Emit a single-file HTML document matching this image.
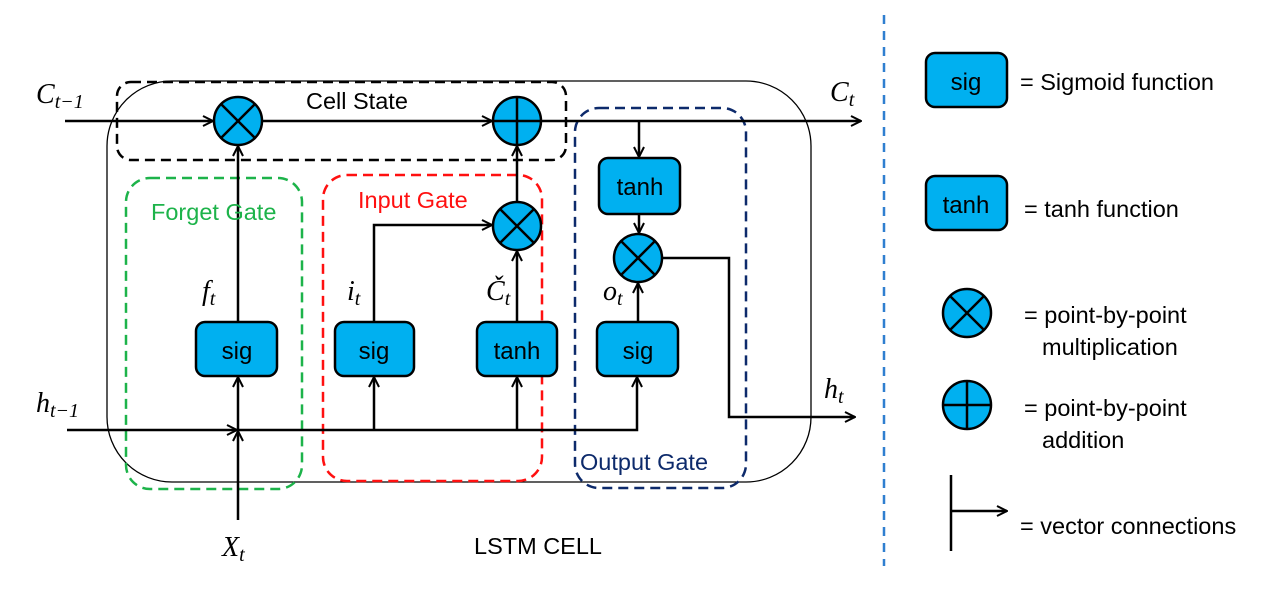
<!DOCTYPE html>
<html><head><meta charset="utf-8"><style>
html,body{margin:0;padding:0;background:#fff;}
svg{display:block;}
text{font-family:"Liberation Sans",sans-serif;}
text.m{font-family:"Liberation Serif",serif;font-style:italic;}
</style></head><body>
<svg width="1280" height="592" viewBox="0 0 1280 592" xmlns="http://www.w3.org/2000/svg">
<defs>
<marker id="a" viewBox="0 0 12 12" refX="11" refY="6" markerWidth="12" markerHeight="12" markerUnits="userSpaceOnUse" orient="auto">
<path d="M1,1 L11,6 L1,11" fill="none" stroke="#000" stroke-width="2"/>
</marker>
</defs>
<rect x="107" y="81" width="704" height="401" rx="65" fill="none" stroke="#000" stroke-width="1.3"/>
<rect x="117" y="82" width="449" height="78" rx="14" fill="none" stroke="#000" stroke-width="2.5" stroke-dasharray="10,6"/>
<rect x="126" y="178" width="176" height="311" rx="24" fill="none" stroke="#1db34a" stroke-width="2.5" stroke-dasharray="10,6"/>
<rect x="323" y="175" width="219" height="306" rx="24" fill="none" stroke="#ff1010" stroke-width="2.5" stroke-dasharray="10,6"/>
<rect x="575" y="108" width="171" height="380" rx="24" fill="none" stroke="#0d2a6b" stroke-width="2.5" stroke-dasharray="10,6"/>
<g stroke="#000" stroke-width="2.5" fill="none">
<line x1="65" y1="121" x2="213" y2="121" marker-end="url(#a)"/>
<line x1="262" y1="121" x2="492" y2="121" marker-end="url(#a)"/>
<line x1="541" y1="121" x2="861" y2="121" marker-end="url(#a)"/>
<line x1="238" y1="322" x2="238" y2="146" marker-end="url(#a)"/>
<line x1="238" y1="430" x2="238" y2="377" marker-end="url(#a)"/>
<line x1="238" y1="520" x2="238" y2="431" marker-end="url(#a)"/>
<line x1="67" y1="430" x2="237" y2="430" marker-end="url(#a)"/>
<polyline points="238,430 637,430 637,377" marker-end="url(#a)"/>
<line x1="374" y1="430" x2="374" y2="377" marker-end="url(#a)"/>
<line x1="517" y1="430" x2="517" y2="377" marker-end="url(#a)"/>
<polyline points="374,322 374,225 492,225" marker-end="url(#a)"/>
<line x1="517" y1="322" x2="517" y2="251" marker-end="url(#a)"/>
<line x1="517" y1="202" x2="517" y2="146" marker-end="url(#a)"/>
<line x1="639" y1="121" x2="639" y2="157" marker-end="url(#a)"/>
<line x1="639" y1="214" x2="639" y2="233" marker-end="url(#a)"/>
<line x1="638" y1="322" x2="638" y2="283" marker-end="url(#a)"/>
<polyline points="662,258 729,258 729,417 855,417" marker-end="url(#a)"/>
<line x1="951" y1="475" x2="951" y2="551"/>
<line x1="951" y1="511" x2="1007" y2="511" marker-end="url(#a)"/>
</g>
<g fill="#00b0f0" stroke="#000" stroke-width="2.5">
<rect x="196" y="322" width="81" height="54" rx="9"/>
<rect x="335" y="322" width="79" height="54" rx="9"/>
<rect x="477" y="322" width="80" height="54" rx="9"/>
<rect x="597" y="322" width="81" height="54" rx="9"/>
<rect x="599" y="158" width="81" height="56" rx="9"/>
<rect x="926" y="53" width="81" height="54" rx="9"/>
<rect x="926" y="176" width="81" height="54" rx="9"/>
</g>
<g fill="#00b0f0" stroke="#000" stroke-width="2.5">
<g transform="translate(238,121)"><circle r="24"/><path d="M-17,-17L17,17M17,-17L-17,17"/></g>
<g transform="translate(517,121)"><circle r="24"/><path d="M-24,0H24M0,-24V24"/></g>
<g transform="translate(517,226)"><circle r="24"/><path d="M-17,-17L17,17M17,-17L-17,17"/></g>
<g transform="translate(638,258)"><circle r="24"/><path d="M-17,-17L17,17M17,-17L-17,17"/></g>
<g transform="translate(967,313)"><circle r="24"/><path d="M-17,-17L17,17M17,-17L-17,17"/></g>
<g transform="translate(967,405)"><circle r="24"/><path d="M-24,0H24M0,-24V24"/></g>
</g>
<g font-size="24" text-anchor="middle" fill="#000">
<text x="237" y="359">sig</text>
<text x="374" y="359">sig</text>
<text x="517" y="359">tanh</text>
<text x="638" y="359">sig</text>
<text x="640" y="195">tanh</text>
<text x="966" y="90">sig</text>
<text x="966" y="213">tanh</text>
</g>
<g font-size="23.5">
<text x="306" y="109" fill="#000">Cell State</text>
<text x="151" y="220" fill="#1db34a">Forget Gate</text>
<text x="358" y="208" fill="#ff1010">Input Gate</text>
<text x="580" y="470" fill="#0d2a6b">Output Gate</text>
<text x="474" y="554" fill="#000">LSTM CELL</text>
<text x="1020" y="90">= Sigmoid function</text>
<text x="1024" y="217">= tanh function</text>
<text x="1024" y="323">= point-by-point</text>
<text x="1042" y="355">multiplication</text>
<text x="1024" y="416">= point-by-point</text>
<text x="1042" y="448">addition</text>
<text x="1020" y="534">= vector connections</text>
</g>
<g font-size="28" fill="#000">
<text class="m" x="36" y="103">C<tspan font-size="20" dy="5">t−1</tspan></text>
<text class="m" x="830" y="101">C<tspan font-size="20" dy="5">t</tspan></text>
<text class="m" x="36" y="412">h<tspan font-size="20" dy="5">t−1</tspan></text>
<text class="m" x="824" y="398">h<tspan font-size="20" dy="5">t</tspan></text>
<text class="m" x="222" y="556">X<tspan font-size="20" dy="5">t</tspan></text>
<text class="m" x="202" y="300">f<tspan font-size="20" dy="5">t</tspan></text>
<text class="m" x="347" y="300">i<tspan font-size="20" dy="5">t</tspan></text>
<text class="m" x="486" y="300">Č<tspan font-size="20" dy="5">t</tspan></text>
<text class="m" x="603" y="300">o<tspan font-size="20" dy="5">t</tspan></text>
</g>
<line x1="884" y1="15" x2="884" y2="566" stroke="#2f7fd0" stroke-width="2.5" stroke-dasharray="9,7"/>
</svg>
</body></html>
